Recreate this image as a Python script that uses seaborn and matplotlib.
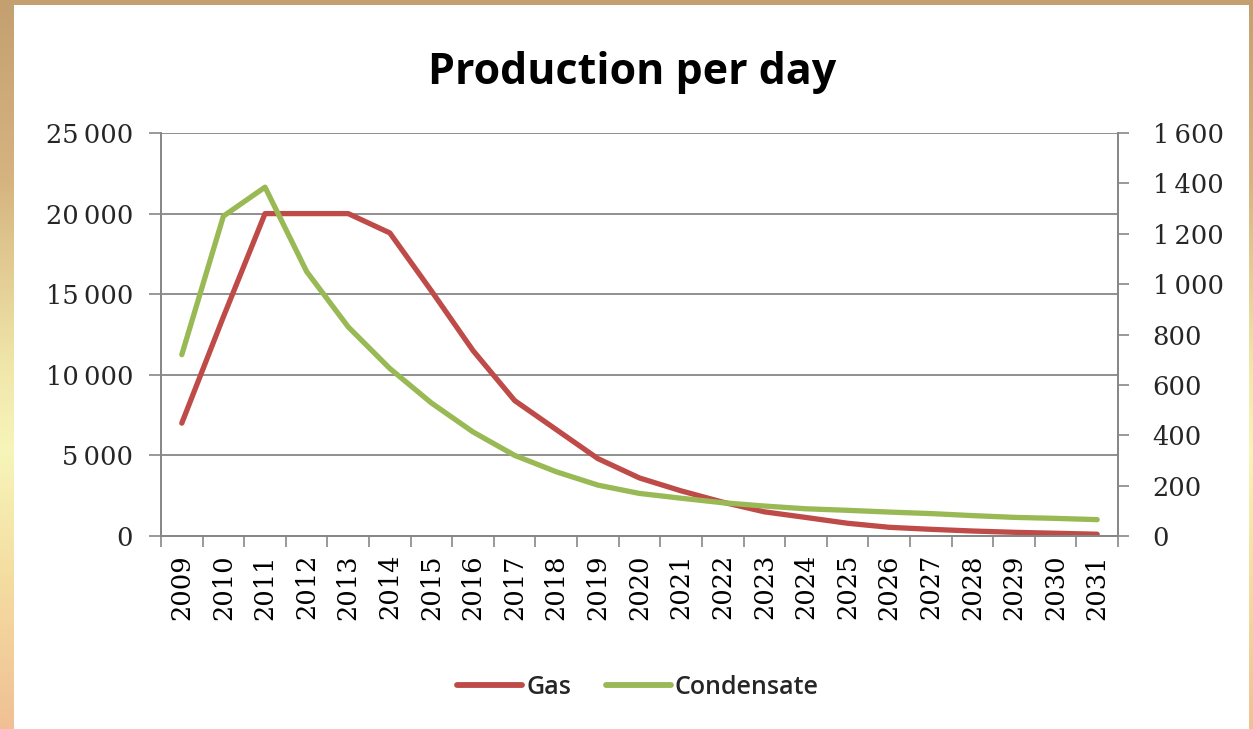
import numpy as np
import pandas as pd
import matplotlib
matplotlib.use("Agg")
import matplotlib.pyplot as plt
from matplotlib.patches import Rectangle
from matplotlib.lines import Line2D
from matplotlib.ticker import FuncFormatter, MultipleLocator, FixedLocator
import seaborn as sns

# ---- data ----
years = list(range(2009, 2032))
gas = [7000, 13600, 20000, 20000, 20000, 18800, 15200, 11500, 8400, 6600, 4800,
       3600, 2800, 2100, 1500, 1150, 790, 540, 415, 310, 230, 170, 110]
condensate = [720, 1270, 1385, 1050, 830, 665, 528, 413, 320, 255, 202,
              169, 150, 132, 119, 108, 102, 95, 89, 81, 74, 70, 65]
series_names = ["Gas", "Condensate"]
title = "Production per day"

df = pd.DataFrame({"year": years, "Gas": gas, "Condensate": condensate})

sns.set_theme(style="white")
plt.rcParams["font.family"] = ["DejaVu Serif"]

W, H = 1253, 729
fig = plt.figure(figsize=(W / 100, H / 100), dpi=100)

# background gradient frame
bg = fig.add_axes([0, 0, 1, 1], zorder=-10)
stops = np.array([0.0, 0.25, 0.5, 0.62, 0.8, 1.0])
cols = np.array([[196, 160, 112], [214, 180, 128], [240, 230, 170],
                 [247, 245, 185], [244, 220, 160], [240, 192, 148]]) / 255.0
yy = np.linspace(0, 1, 200)
grad = np.stack([np.interp(yy, stops, cols[:, i]) for i in range(3)], axis=-1)
img = np.repeat(grad[:, None, :], 10, axis=1)
bg.imshow(img, aspect="auto", extent=[0, 1, 0, 1], origin="upper")
bg.add_patch(Rectangle((14 / W, 0), (1249 - 14) / W, (H - 5) / H,
                       facecolor="white", edgecolor="none", transform=bg.transAxes))
bg.set_xlim(0, 1)
bg.set_ylim(0, 1)
bg.axis("off")

red = "#BE4B48"
green = "#98B954"
grid_c = "#878787"

left, right = 161 / W, 1118 / W
bottom, top = 1 - 536 / H, 1 - 133 / H
ax = fig.add_axes([left, bottom, right - left, top - bottom])
ax.set_facecolor("none")
ax2 = ax.twinx()

sns.lineplot(data=df, x="year", y="Gas", ax=ax, color=red, linewidth=3.8, legend=False)
sns.lineplot(data=df, x="year", y="Condensate", ax=ax2, color=green, linewidth=3.8, legend=False)

fmt = FuncFormatter(lambda v, p: f"{v:,.0f}".replace(",", "\u2009"))

ax.set_xlim(2008.5, 2031.5)
ax.set_ylim(0, 25000)
ax2.set_ylim(0, 1600)
ax.yaxis.set_major_locator(MultipleLocator(5000))
ax2.yaxis.set_major_locator(MultipleLocator(200))
ax.yaxis.set_major_formatter(fmt)
ax2.yaxis.set_major_formatter(fmt)

ax.set_xticks(years)
ax.set_xticklabels([str(y) for y in years], rotation=90, va="top", ha="center")
ax.xaxis.set_minor_locator(FixedLocator([y + 0.5 for y in range(2008, 2032)]))
ax.tick_params(axis="x", which="major", length=0, pad=13, labelsize=18.5, colors="black")
ax.tick_params(axis="x", which="minor", length=8, width=1.2, color=grid_c, direction="out", bottom=True)
ax.tick_params(axis="y", length=9, width=1.2, color=grid_c, pad=11, labelsize=18.5, left=True)
ax2.tick_params(axis="y", length=8, width=1.2, color=grid_c, pad=17, labelsize=18.5, right=True)

ax.grid(True, axis="y", color=grid_c, linewidth=1.3)
ax.grid(False, axis="x")
ax2.grid(False)
ax.set_axisbelow(True)
for a in (ax, ax2):
    a.set_xlabel("")
    a.set_ylabel("")
    a.spines["top"].set_visible(False)
    for s in ("left", "right", "bottom"):
        a.spines[s].set_color(grid_c)
        a.spines[s].set_linewidth(1.3)

fig.text(632 / W, 1 - 72 / H, title, ha="center", va="center",
         fontsize=31, fontweight="bold", family=["Open Sans", "DejaVu Sans"], color="black")

handles = [Line2D([], [], color=red, linewidth=4.2), Line2D([], [], color=green, linewidth=4.2)]
fig.legend(handles, series_names, loc="center", bbox_to_anchor=(638 / W, 1 - 687 / H),
           ncol=2, frameon=False, handlelength=2.6, handletextpad=0.15, columnspacing=1.4,
           prop={"family": ["Open Sans", "DejaVu Sans"], "size": 18, "weight": "semibold"})

fig.savefig("out.png", dpi=100)
